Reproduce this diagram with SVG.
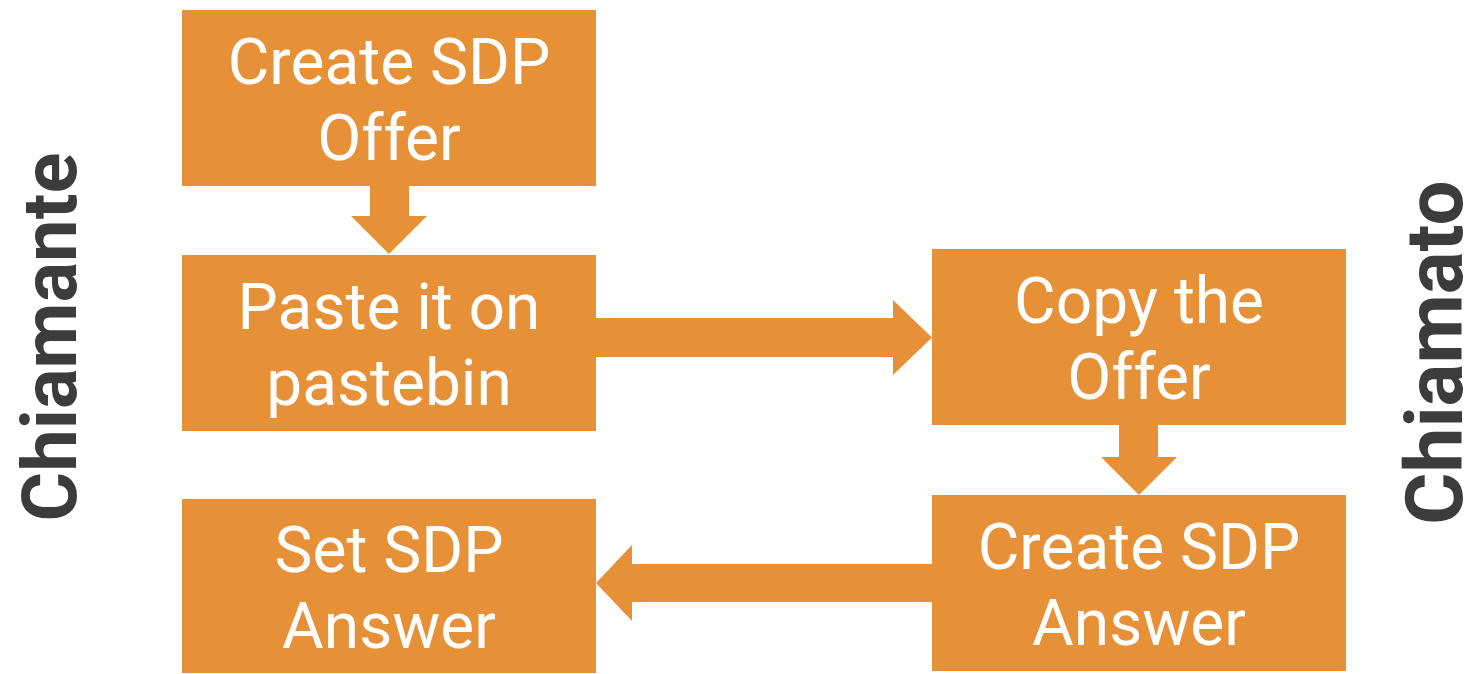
<svg xmlns="http://www.w3.org/2000/svg" width="1472" height="674" viewBox="0 0 1472 674">
  <style>
    .box { fill: #E69138; }
    .arrow { fill: #E69138; }
    .label { font-family: Roboto, "Liberation Sans", sans-serif; font-size: 64px; fill: #FFFFFF; text-anchor: middle; }
    .side { font-family: Roboto, "Liberation Sans", sans-serif; font-weight: bold; fill: #3C3C3C; text-anchor: middle; }
  </style>
  <rect width="1472" height="674" fill="#FFFFFF"/>

  <!-- side titles -->
  <g id="caller">
    <text class="side" font-size="76" transform="translate(76 337) rotate(-90)">Chiamante</text>
  </g>
  <g id="callee">
    <text class="side" font-size="80" transform="translate(1462 352.5) rotate(-90)">Chiamato</text>
  </g>

  <!-- block arrows between steps -->
  <g id="connectors">
    <polygon class="arrow" points="370,186 409,186 409,216 427,216 389,254 351,216 370,216"/>
    <polygon class="arrow" points="596,318 893,318 893,300 932,337.5 893,375 893,357 596,357"/>
    <polygon class="arrow" points="1119,425 1158,425 1158,457 1177,457 1139,495 1101,457 1119,457"/>
    <polygon class="arrow" points="932,564 632,564 632,545 596,583 632,621 632,602 932,602"/>
  </g>

  <g id="create-offer">
    <rect class="box" x="182" y="10" width="414" height="176"/>
    <text class="label" x="389" y="84">Create SDP</text>
    <text class="label" x="389" y="160">Offer</text>
  </g>

  <g id="paste-offer">
    <rect class="box" x="182" y="255" width="414" height="176"/>
    <text class="label" x="389" y="329">Paste it on</text>
    <text class="label" x="389" y="405">pastebin</text>
  </g>

  <g id="copy-offer">
    <rect class="box" x="932" y="249" width="414" height="176"/>
    <text class="label" x="1139" y="323">Copy the</text>
    <text class="label" x="1139" y="399">Offer</text>
  </g>

  <g id="create-answer">
    <rect class="box" x="932" y="495" width="414" height="176"/>
    <text class="label" x="1139" y="569">Create SDP</text>
    <text class="label" x="1139" y="645">Answer</text>
  </g>

  <g id="set-answer">
    <rect class="box" x="182" y="499" width="414" height="174"/>
    <text class="label" x="389" y="572">Set SDP</text>
    <text class="label" x="389" y="648">Answer</text>
  </g>
</svg>
